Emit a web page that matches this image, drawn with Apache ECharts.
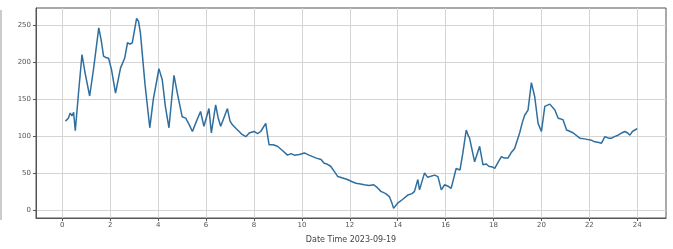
<!DOCTYPE html>
<html>
<head>
<meta charset="utf-8">
<script src="https://cdn.jsdelivr.net/npm/echarts@6/dist/echarts.min.js"></script>
<style>
  html, body { margin: 0; padding: 0; background: #fff; }
  #main { width: 673px; height: 249px; }
</style>
</head>
<body>
<div id="main"></div>
<script>
// hours of day (x) and values (y)
var hours = [
    0.13, 0.25, 0.33, 0.4, 0.47, 0.54, 0.68, 0.82, 0.95, 1.14, 1.3, 1.52, 1.62, 1.72, 1.82, 1.93,
    2.05, 2.22, 2.43, 2.6, 2.72, 2.82, 2.92, 3.1, 3.18, 3.26, 3.45, 3.65, 3.8, 3.96, 4.03, 4.17,
    4.3, 4.45, 4.66, 4.8, 5.0, 5.15, 5.3, 5.43, 5.6, 5.77, 5.91, 6.12, 6.22, 6.4, 6.5, 6.61,
    6.75, 6.89, 7.0, 7.1, 7.25, 7.38, 7.5, 7.66, 7.8, 8.0, 8.15, 8.28, 8.49, 8.63, 8.8, 8.98,
    9.2, 9.4, 9.55, 9.68, 9.9, 10.1, 10.3, 10.45, 10.6, 10.8, 10.93, 11.05, 11.2, 11.35, 11.5, 11.7,
    11.9, 12.1, 12.26, 12.45, 12.6, 12.8, 13.0, 13.15, 13.3, 13.5, 13.65, 13.75, 13.83, 13.92, 14.0, 14.2,
    14.42, 14.6, 14.7, 14.84, 14.91, 15.12, 15.25, 15.33, 15.54, 15.68, 15.82, 15.96, 16.1, 16.23, 16.44, 16.6,
    16.72, 16.86, 16.95, 17.0, 17.21, 17.42, 17.56, 17.7, 17.8, 17.95, 18.05, 18.2, 18.33, 18.45, 18.6, 18.75,
    18.88, 19.09, 19.2, 19.3, 19.44, 19.58, 19.72, 19.86, 20.0, 20.14, 20.35, 20.56, 20.7, 20.9, 21.05, 21.2,
    21.33, 21.6, 21.8, 21.95, 22.1, 22.23, 22.4, 22.5, 22.65, 22.8, 22.93, 23.05, 23.2, 23.35, 23.48, 23.6,
    23.69, 23.8, 23.9, 24.0
];
var values = [
    120, 124, 131, 127, 132, 107, 160, 210, 185, 154, 190, 246, 230, 208, 206, 205,
    190, 158, 192, 205, 226, 224, 226, 259, 255, 239, 170, 111, 150, 178, 191, 176,
    140, 111, 182, 158, 126, 124, 115, 106, 120, 133, 113, 137, 104, 142, 125, 113,
    125, 137, 120, 115, 110, 106, 102, 99, 104, 106, 103, 106, 117, 88, 88, 86,
    80, 74, 76, 74, 75, 77, 74, 72, 70, 68, 63, 62, 59, 52, 45, 43,
    41, 38, 36, 35, 34, 33, 34, 30, 25, 22, 18, 10, 2, 6, 9, 14,
    20, 22, 25, 41, 27, 50, 44, 43, 47, 45, 27, 34, 32, 29, 56, 54,
    77, 108, 100, 97, 65, 86, 61, 62, 59, 58, 56, 65, 72, 70, 70, 78,
    83, 104, 118, 128, 135, 172, 153, 117, 106, 140, 143, 135, 124, 122, 108, 106,
    104, 97, 96, 95, 94, 92, 91, 90, 99, 97, 97, 99, 101, 104, 106, 104,
    101, 106, 108, 110
];
var xTicks = [0, 2, 4, 6, 8, 10, 12, 14, 16, 18, 20, 22, 24];
var yTicks = [0, 50, 100, 150, 200, 250];
var xTitle = "Date Time 2023-09-19";

var points = hours.map(function (h, i) { return [h, values[i]]; });

var axisText = { color: "#555", fontFamily: "DejaVu Sans", fontSize: 7 };

var option = {
    animation: false,
    backgroundColor: "#fff",
    grid: {
        left: 36, right: 7, top: 8, bottom: 31,
        show: true,
        borderColor: "#555",
        borderWidth: 1,
    },
    xAxis: {
        type: "value",
        min: -1.1,
        max: 25.2,
        name: xTitle,
        nameLocation: "middle",
        nameGap: 18,
        nameTextStyle: { color: "#444", fontFamily: "DejaVu Sans", fontSize: 8 },
        axisLine: { show: true, onZero: false, lineStyle: { color: "#555", width: 1 } },
        axisTick: { show: true, length: 3, customValues: xTicks, lineStyle: { color: "#555" } },
        axisLabel: Object.assign({ customValues: xTicks, margin: 4 }, axisText),
        splitLine: { show: true, lineStyle: { color: "#d4d4d4", width: 1 } },
    },
    yAxis: {
        type: "value",
        min: -11,
        max: 273,
        axisLine: { show: true, onZero: false, lineStyle: { color: "#555", width: 1 } },
        axisTick: { show: true, length: 3, customValues: yTicks, lineStyle: { color: "#555" } },
        axisLabel: Object.assign({ customValues: yTicks, margin: 5 }, axisText),
        splitLine: { show: true, lineStyle: { color: "#d4d4d4", width: 1 } },
    },
    graphic: [
        {
            type: "line",
            shape: { x1: 1, y1: 10, x2: 1, y2: 220 },
            style: { stroke: "#999", lineWidth: 1 },
        },
    ],
    series: [
        {
            type: "line",
            data: points,
            showSymbol: false,
            lineStyle: { color: "#2f6f9f", width: 1.5 },
        },
    ],
};

var myChart = echarts.init(document.getElementById("main"), null, { renderer: "canvas" });
myChart.setOption(option);
</script>
</body>
</html>
